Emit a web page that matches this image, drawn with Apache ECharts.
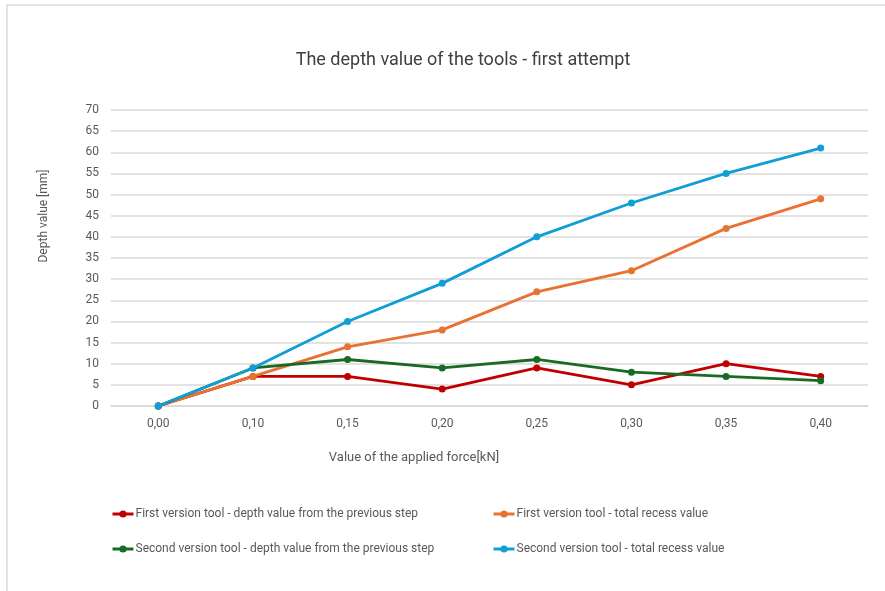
<!DOCTYPE html>
<html>
<head>
<meta charset="utf-8">
<script src="https://cdn.jsdelivr.net/npm/echarts@6/dist/echarts.min.js"></script>
<style>
  html, body { margin: 0; padding: 0; background: #ffffff; }
  #chart { width: 885px; height: 591px; }
</style>
</head>
<body>
<div id="chart"></div>
<script>
// Applied force steps [kN]
const forces = ['0,00', '0,10', '0,15', '0,20', '0,25', '0,30', '0,35', '0,40'];

// Depth readings [mm]
const firstStep = [0, 7, 7, 4, 9, 5, 10, 7];
const firstTotal = [0, 7, 14, 18, 27, 32, 42, 49];
const secondStep = [0, 9, 11, 9, 11, 8, 7, 6];
const secondTotal = [0, 9, 20, 29, 40, 48, 55, 61];

const seriesNames = [
  'First version tool - depth value from the previous step',
  'First version tool - total recess value',
  'Second version tool - depth value from the previous step',
  'Second version tool - total recess value'
];
const seriesData = [firstStep, firstTotal, secondStep, secondTotal];
const seriesColors = ['#C00000', '#E97132', '#196B24', '#0F9ED5'];

const FONT = '"Liberation Sans Narrow", "Roboto", "DejaVu Sans Condensed", sans-serif';
const TEXT_GRAY = '#595959';

const chart = echarts.init(document.getElementById('chart'), null, { renderer: 'canvas' });

const legendPos = [
  { left: 111, top: 508 },
  { left: 492, top: 508 },
  { left: 111, top: 543 },
  { left: 492, top: 543 }
];

const option = {
  backgroundColor: '#ffffff',
  animation: false,
  title: {
    text: 'The depth value of the tools - first attempt',
    left: 458,
    top: 46,
    textAlign: 'center',
    textStyle: { fontFamily: FONT, fontSize: 18, fontWeight: 'normal', color: '#404040' }
  },
  legend: seriesNames.map((name, i) => ({
    data: [name],
    left: legendPos[i].left,
    top: legendPos[i].top,
    padding: 0,
    itemWidth: 21,
    itemHeight: 9,
    itemGap: 2,
    lineStyle: { width: 3 },
    textStyle: { fontFamily: FONT, fontSize: 12, color: TEXT_GRAY, padding: [0, 0, 0, -3] },
    selectedMode: false
  })),
  grid: { left: 111, right: 17, top: 110, bottom: 185, containLabel: false },
  xAxis: {
    type: 'category',
    data: forces,
    boundaryGap: true,
    axisLine: { show: true, lineStyle: { color: '#d9d9d9', width: 1.5 } },
    axisTick: { show: false },
    axisLabel: { margin: 12, fontFamily: FONT, fontSize: 12, color: TEXT_GRAY }
  },
  yAxis: {
    type: 'value',
    min: 0,
    max: 70,
    interval: 5,
    axisLine: { show: false },
    axisTick: { show: false },
    axisLabel: { margin: 12, fontFamily: FONT, fontSize: 12, color: TEXT_GRAY },
    splitLine: { lineStyle: { color: '#d9d9d9', width: 1.5 } }
  },
  series: seriesNames.map((name, i) => ({
    name: name,
    type: 'line',
    data: seriesData[i],
    symbol: 'circle',
    symbolSize: 7,
    lineStyle: { color: seriesColors[i], width: 2.8 },
    itemStyle: { color: seriesColors[i] },
    emphasis: { disabled: true },
    z: 2 + i
  })),
  graphic: [
    {
      type: 'rect',
      shape: { x: 7, y: 5, width: 900, height: 620 },
      style: { fill: 'none', stroke: '#d9d9d9', lineWidth: 1.5 },
      silent: true
    },
    {
      type: 'text',
      x: 414,
      y: 458,
      style: {
        text: 'Value of the applied force[kN]',
        fontFamily: FONT, fontSize: 13, fill: TEXT_GRAY,
        textAlign: 'center', textVerticalAlign: 'middle'
      }
    },
    {
      type: 'text',
      x: 44,
      y: 216,
      rotation: Math.PI / 2,
      style: {
        text: 'Depth value [mm]',
        fontFamily: FONT, fontSize: 12, fill: TEXT_GRAY,
        textAlign: 'center', textVerticalAlign: 'middle'
      }
    }
  ]
};

chart.setOption(option);
</script>
</body>
</html>
